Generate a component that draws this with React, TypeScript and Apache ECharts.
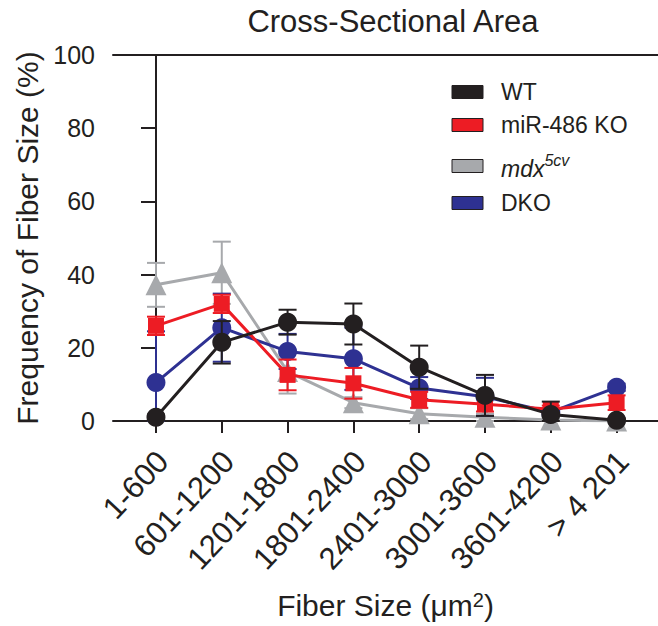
import React, { useEffect, useRef } from "react";
import * as echarts from "echarts";

const categories = ["1-600", "601-1200", "1201-1800", "1801-2400", "2401-3000", "3001-3600", "3601-4200", "> 4 201"];
const yTicks = [0, 20, 40, 60, 80, 100];

const wtMean = [1, 21.5, 27, 26.5, 14.7, 7, 1.8, 0.2];
const wtSd = [0.8, 5.8, 3.4, 5.6, 5.9, 5.6, 3.5, 0.5];
const koMean = [26, 32, 12.6, 10.3, 5.8, 4.6, 3.2, 5];
const koSd = [2.5, 2.5, 4.2, 4.2, 2.2, 2, 1, 2];
const mdxMean = [37.2, 40.5, 13.5, 5, 2, 1, 0.3, 0];
const mdxSd = [6, 8.5, 6, 1.5, 1.5, 1, 0.5, 0.3];
const dkoMean = [10.5, 25.5, 19, 17, 9, 6.6, 2.4, 9.2];
const dkoSd = [14, 9.3, 4.8, 8.5, 3, 5.2, 1, 1];

const C_BLACK = "#231f20";
const C_RED = "#ed1c24";
const C_GREY = "#a7a9ac";
const C_BLUE = "#2e3192";
const FONT = "'Liberation Sans', Arial, Helvetica, sans-serif";

const groups = [
  { name: "mdx", mean: mdxMean, sd: mdxSd, color: C_GREY, symbol: "triangle", size: 21, z: 2 },
  { name: "DKO", mean: dkoMean, sd: dkoSd, color: C_BLUE, symbol: "circle", size: 19, z: 3 },
  { name: "miR-486 KO", mean: koMean, sd: koSd, color: C_RED, symbol: "rect", size: 16, z: 4 },
  { name: "WT", mean: wtMean, sd: wtSd, color: C_BLACK, symbol: "circle", size: 19, z: 5 },
];

const legendItems = [
  { label: "WT", color: C_BLACK, y: 92 },
  { label: "miR-486 KO", color: C_RED, y: 125 },
  { label: "{i|mdx}{s|5cv}", color: C_GREY, y: 166 },
  { label: "DKO", color: C_BLUE, y: 203 },
];

export default function App() {
  const ref = useRef<HTMLDivElement>(null);
  useEffect(() => {
    if (!ref.current) return;
    const chart = echarts.init(ref.current, null, { renderer: "svg" });
    const xMin = -0.653;
    const xMax = 7.629;
    const idx = categories.map((_, i) => i);
    const labelPos = categories.map((_, i) => i + 0.1);
    const series: any[] = [];
    groups.forEach((g) => {
      series.push({
        type: "custom",
        name: g.name + "-err",
        z: g.z,
        xAxisIndex: 0,
        yAxisIndex: 0,
        data: g.mean.map((m, i) => [i, m - g.sd[i], m + g.sd[i]]),
        encode: { x: 0, y: [1, 2] },
        renderItem: (params: any, api: any) => {
          const x = api.value(0);
          const lo = Math.max(0, api.value(1));
          const hi = api.value(2);
          const pLo = api.coord([x, lo]);
          const pHi = api.coord([x, hi]);
          const w = 9;
          const st = { stroke: g.color, lineWidth: 2 };
          return {
            type: "group",
            children: [
              { type: "line", shape: { x1: pLo[0], y1: pLo[1], x2: pHi[0], y2: pHi[1] }, style: st },
              { type: "line", shape: { x1: pHi[0] - w, y1: pHi[1], x2: pHi[0] + w, y2: pHi[1] }, style: st },
              { type: "line", shape: { x1: pLo[0] - w, y1: pLo[1], x2: pLo[0] + w, y2: pLo[1] }, style: st },
            ],
          };
        },
      });
      series.push({
        type: "line",
        name: g.name,
        z: g.z,
        xAxisIndex: 0,
        yAxisIndex: 0,
        data: g.mean.map((m, i) => [i, m]),
        symbol: g.symbol,
        symbolSize: g.size,
        showSymbol: true,
        lineStyle: { color: g.color, width: 3 },
        itemStyle: { color: g.color },
      });
    });

    const graphics: any[] = [];
    legendItems.forEach((l) => {
      graphics.push({
        type: "rect",
        shape: { x: 452, y: l.y - 6.5, width: 31, height: 13 },
        style: { fill: l.color, stroke: C_BLACK, lineWidth: 1 },
      });
      graphics.push({
        type: "text",
        x: 501,
        y: l.y,
        style: {
          text: l.label,
          fontSize: 23,
          fontFamily: FONT,
          fill: C_BLACK,
          verticalAlign: "middle",
          rich: {
            i: { fontSize: 23, fontStyle: "italic", fontFamily: FONT, fill: C_BLACK, lineHeight: 28, verticalAlign: "bottom" },
            s: { fontSize: 16, fontStyle: "italic", fontFamily: FONT, fill: C_BLACK, lineHeight: 28, verticalAlign: "top" },
          },
        },
      });
    });

    chart.setOption({
      animation: false,
      backgroundColor: "#ffffff",
      title: {
        text: "Cross-Sectional Area",
        left: 388,
        textAlign: "center",
        top: 1,
        textStyle: { fontSize: 31, fontWeight: "normal", fontFamily: FONT, color: C_BLACK },
      },
      grid: { left: 113, right: 0, top: 55, bottom: 205, containLabel: false, outerBoundsMode: "none" },
      xAxis: [
        {
          type: "value",
          min: xMin,
          max: xMax,
          position: "bottom",
          axisLine: { show: true, onZero: false, lineStyle: { color: C_BLACK, width: 2 } },
          axisTick: { show: true, customValues: idx, length: 12, lineStyle: { color: C_BLACK, width: 2 } },
          axisLabel: {
            show: true,
            customValues: labelPos,
            formatter: (v: number) => categories[Math.round(v)] ?? "",
            rotate: 47,
            margin: 35,
            fontSize: 31,
            fontFamily: FONT,
            color: C_BLACK,
          },
          splitLine: { show: false },
          name: "Fiber Size (μm{s|2})",
          nameLocation: "middle",
          nameGap: 169,
          nameTextStyle: {
            fontSize: 30,
            fontFamily: FONT,
            color: C_BLACK,
            rich: { s: { fontSize: 20, fontFamily: FONT, color: C_BLACK, verticalAlign: "top", lineHeight: 30 } },
          },
        },
        {
          type: "value",
          min: xMin,
          max: xMax,
          position: "top",
          axisLine: { show: true, onZero: false, lineStyle: { color: C_BLACK, width: 2 } },
          axisTick: { show: false },
          axisLabel: { show: false },
          splitLine: { show: false },
        },
      ],
      yAxis: {
        type: "value",
        min: 0,
        max: 100,
        interval: 20,
        axisLine: { show: true, lineStyle: { color: C_BLACK, width: 2 } },
        axisTick: { show: true, length: 15, lineStyle: { color: C_BLACK, width: 2 } },
        axisLabel: {
          margin: 18,
          fontSize: 25,
          fontFamily: FONT,
          color: C_BLACK,
          formatter: (v: number) => (yTicks.includes(v) ? String(v) : ""),
        },
        splitLine: { show: false },
        name: "Frequency of Fiber Size (%)",
        nameLocation: "middle",
        nameRotate: 90,
        nameGap: 69,
        nameTextStyle: { fontSize: 30, fontFamily: FONT, color: C_BLACK },
      },
      graphic: graphics,
      series,
    });
    return () => chart.dispose();
  }, []);
  return <div ref={ref} style={{ position: "absolute", left: 0, top: 0, width: 658, height: 626 }} />;
}
